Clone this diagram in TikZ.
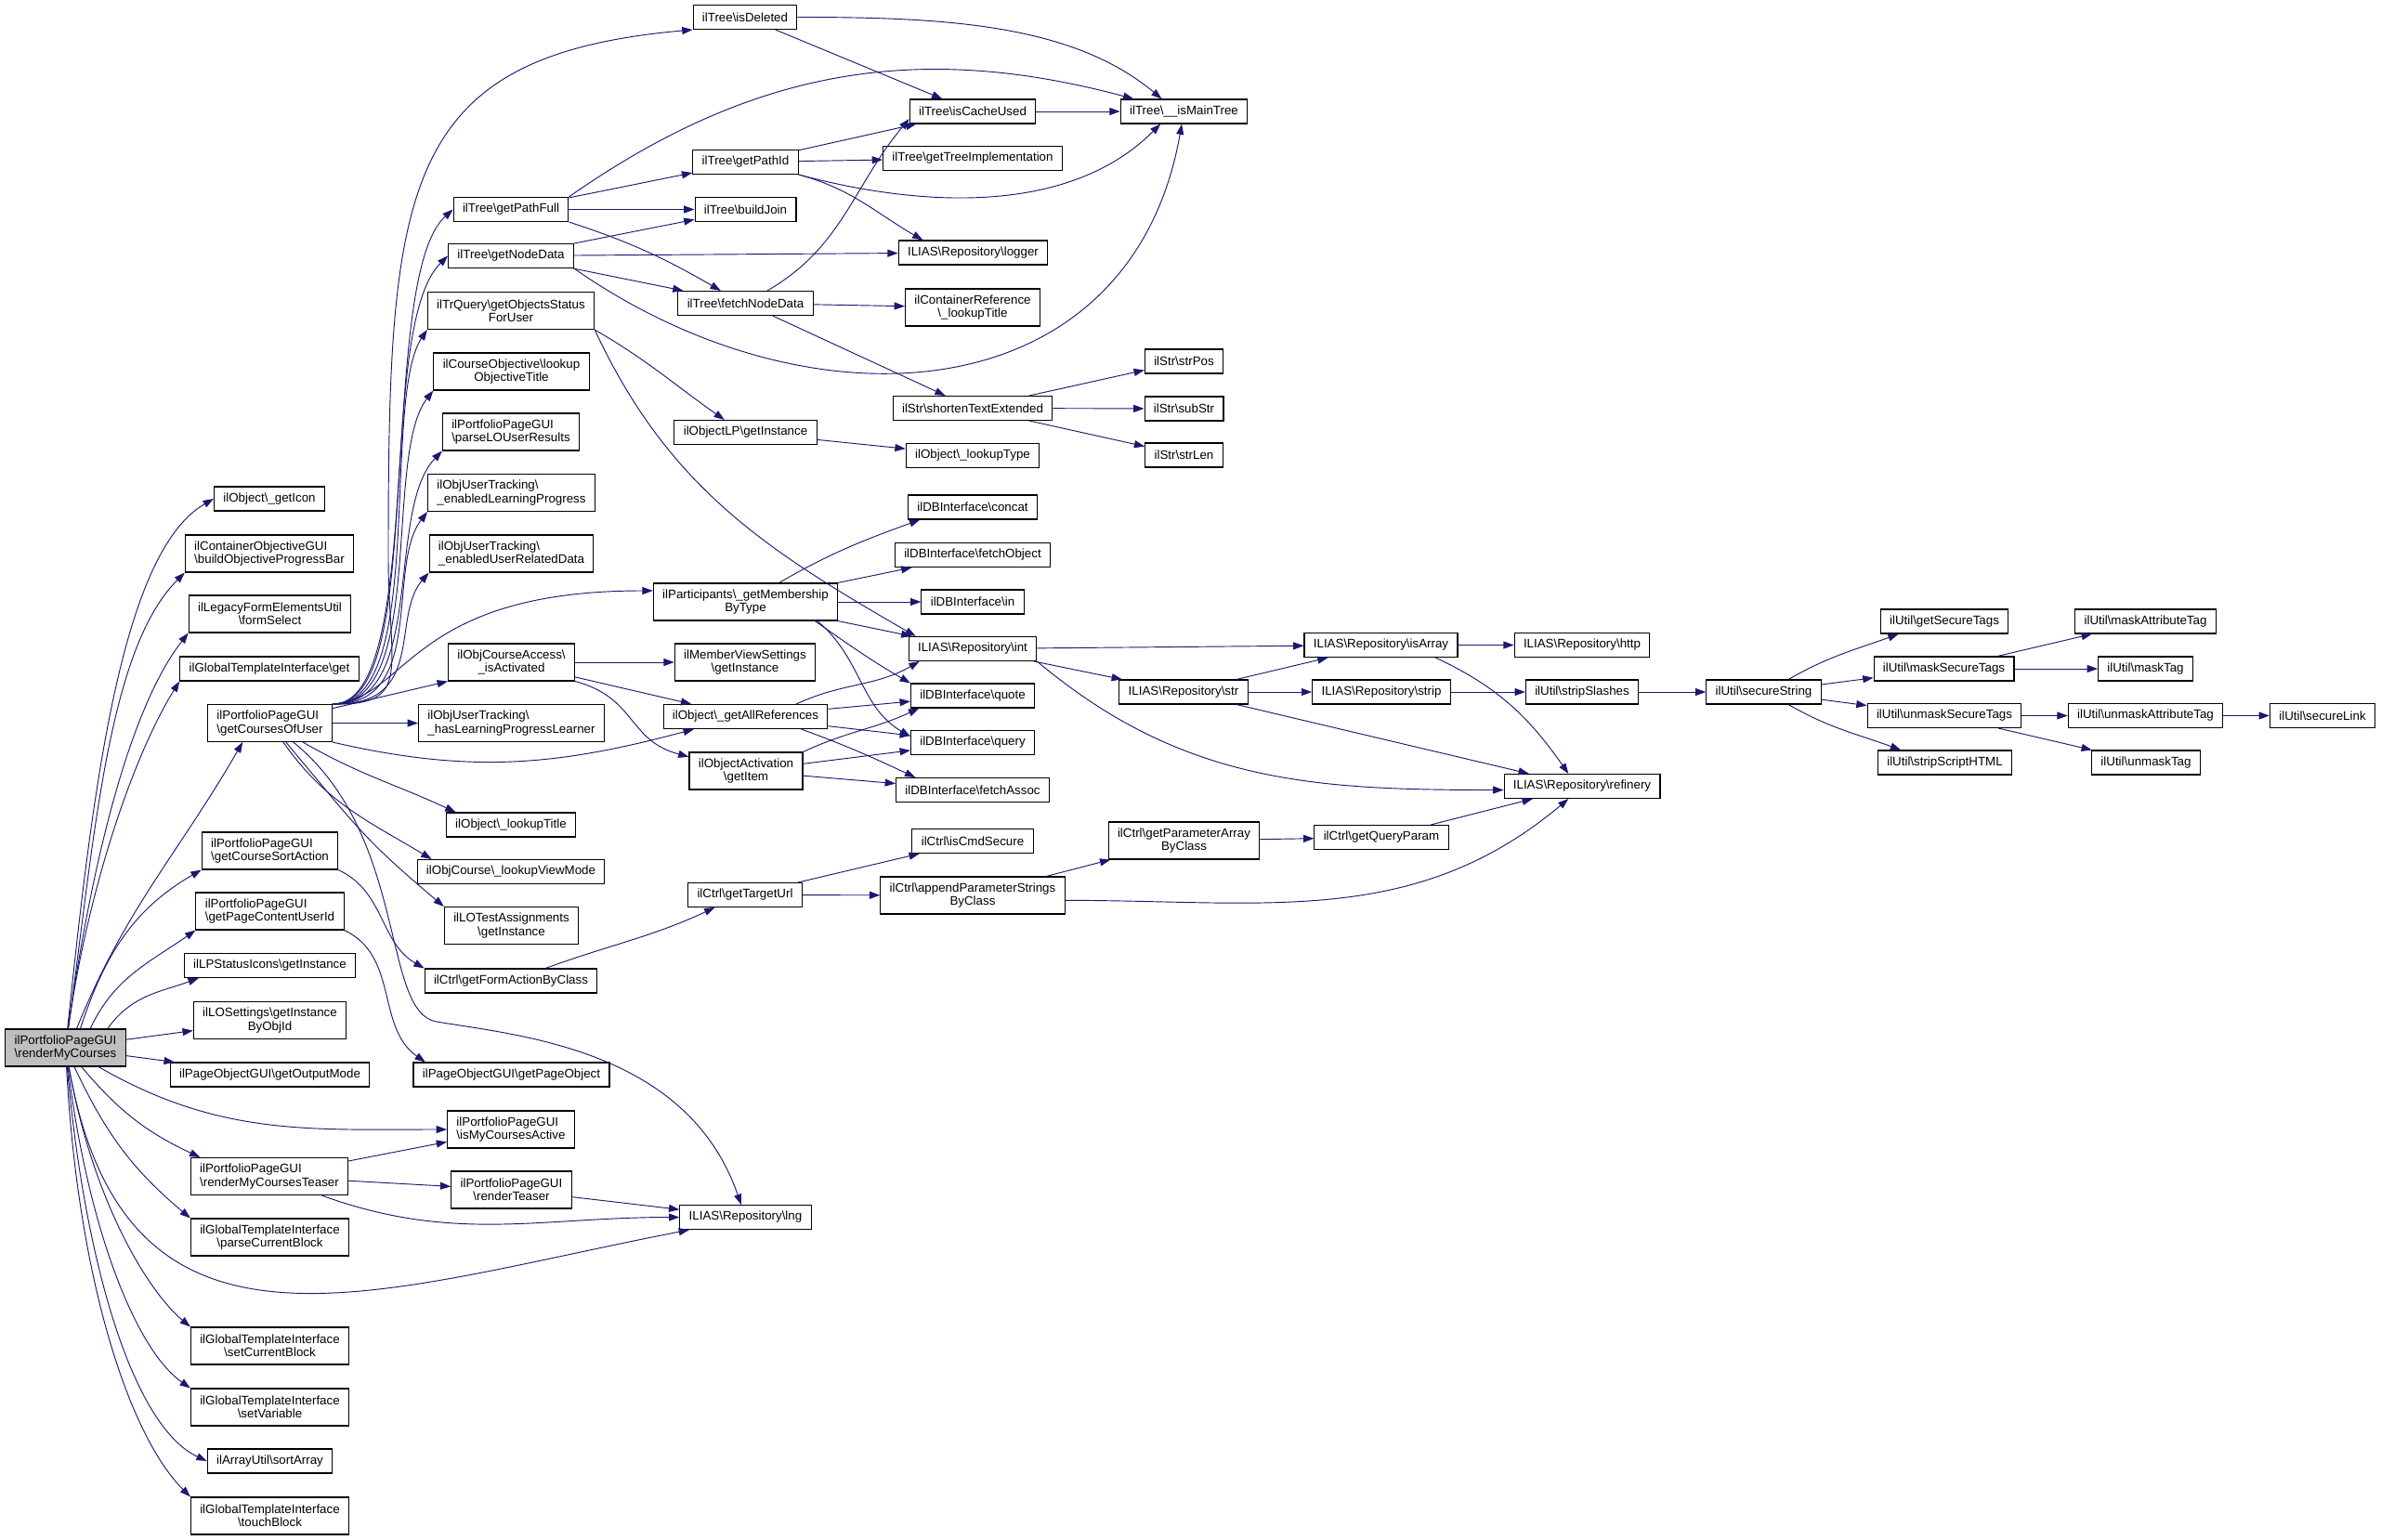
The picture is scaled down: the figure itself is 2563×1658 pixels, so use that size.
\documentclass[tikz,border=0pt]{standalone}
\usepackage{fontspec}
\setmainfont{Liberation Sans}
\usetikzlibrary{arrows.meta}
\definecolor{callblue}{RGB}{25,25,112}
\newcommand{\bsl}{\textbackslash}
\tikzset{
  fn/.style={draw=black, line width=0.8pt, fill=white, font=\fontsize{10pt}{10.7pt}\selectfont,
    inner xsep=7.4pt, inner ysep=2pt, minimum height=19.5pt},
  fn2/.style={fn, align=center, minimum height=30pt},
  fn2l/.style={fn, align=left, minimum height=30pt},
  fnroot/.style={fn2l, fill=gray!50},
  callline/.style={draw=callblue, line width=0.7pt, -{Triangle[length=8.5pt,width=6pt]}}
}
\begin{document}
\begin{tikzpicture}[x=0.75pt,y=0.75pt]
      \useasboundingbox (0,0) rectangle (2563,-1658);
      \path
        (70.5,-1128) node[fnroot] (rmc) {ilPortfolioPageGUI\\\bsl renderMyCourses}
        (290,-537) node[fn] (geticon) {ilObject\bsl\_getIcon}
        (290,-596) node[fn2l] (objbar) {ilContainerObjectiveGUI\\\bsl buildObjectiveProgressBar}
        (290.5,-661) node[fn2] (formsel) {ilLegacyFormElementsUtil\\\bsl formSelect}
        (290,-720) node[fn] (tplget) {ilGlobalTemplateInterface\bsl get}
        (290.5,-778.5) node[fn2l] (courses) {ilPortfolioPageGUI\\\bsl getCoursesOfUser}
        (290.5,-916) node[fn2l] (sortact) {ilPortfolioPageGUI\\\bsl getCourseSortAction}
        (290.5,-981) node[fn2l] (pageuser) {ilPortfolioPageGUI\\\bsl getPageContentUserId}
        (290.5,-1039.5) node[fn] (lpicons) {ilLPStatusIcons\bsl getInstance}
        (290.5,-1098.5) node[fn2] (losettings) {ilLOSettings\bsl getInstance\\ByObjId}
        (290.5,-1157) node[fn] (outputmode) {ilPageObjectGUI\bsl getOutputMode}
        (290,-1266.5) node[fn2l] (teaser) {ilPortfolioPageGUI\\\bsl renderMyCoursesTeaser}
        (290.5,-1332) node[fn2] (parseblock) {ilGlobalTemplateInterface\\\bsl parseCurrentBlock}
        (290.5,-1449) node[fn2] (setblock) {ilGlobalTemplateInterface\\\bsl setCurrentBlock}
        (290.5,-1515) node[fn2] (setvar) {ilGlobalTemplateInterface\\\bsl setVariable}
        (290.5,-1573) node[fn] (sortarr) {ilArrayUtil\bsl sortArray}
        (290.5,-1632) node[fn2] (touchblock) {ilGlobalTemplateInterface\\\bsl touchBlock}
        (550,-225.5) node[fn] (pathfull) {ilTree\bsl getPathFull}
        (550,-275.5) node[fn] (nodedata) {ilTree\bsl getNodeData}
        (550,-334.5) node[fn2] (trquery) {ilTrQuery\bsl getObjectsStatus\\ForUser}
        (550.5,-400) node[fn2] (objtitle) {ilCourseObjective\bsl lookup\\ObjectiveTitle}
        (550,-465) node[fn2l] (parselo) {ilPortfolioPageGUI\\\bsl parseLOUserResults}
        (550.5,-530.5) node[fn2l] (enabledlp) {ilObjUserTracking\bsl\\\_enabledLearningProgress}
        (550.5,-596) node[fn2l] (enabledurd) {ilObjUserTracking\bsl\\\_enabledUserRelatedData}
        (550.5,-713) node[fn2] (isactivated) {ilObjCourseAccess\bsl\\\_isActivated}
        (550.5,-778.5) node[fn2l] (haslp) {ilObjUserTracking\bsl\\\_hasLearningProgressLearner}
        (550,-888) node[fn] (lookuptitle) {ilObject\bsl\_lookupTitle}
        (550,-938.5) node[fn] (viewmode) {ilObjCourse\bsl\_lookupViewMode}
        (550.5,-996.5) node[fn2] (lotest) {ilLOTestAssignments\\\bsl getInstance}
        (550,-1056) node[fn] (formaction) {ilCtrl\bsl getFormActionByClass}
        (550.5,-1157) node[fn] (pageobject) {ilPageObjectGUI\bsl getPageObject}
        (550,-1216) node[fn2l] (myactive) {ilPortfolioPageGUI\\\bsl isMyCoursesActive}
        (550.5,-1281) node[fn2] (renderteaser) {ilPortfolioPageGUI\\\bsl renderTeaser}
        (802,-18.5) node[fn] (isdeleted) {ilTree\bsl isDeleted}
        (802.5,-174.5) node[fn] (pathid) {ilTree\bsl getPathId}
        (802.5,-225.5) node[fn] (buildjoin) {ilTree\bsl buildJoin}
        (802.5,-326.5) node[fn] (fetchnode) {ilTree\bsl fetchNodeData}
        (802.5,-465.5) node[fn] (objectlp) {ilObjectLP\bsl getInstance}
        (802.5,-648) node[fn2] (membership) {ilParticipants\bsl\_getMembership\\ByType}
        (802,-713) node[fn2] (memberview) {ilMemberViewSettings\\\bsl getInstance}
        (802.5,-771.5) node[fn] (allrefs) {ilObject\bsl\_getAllReferences}
        (803,-830) node[fn2] (getitem) {ilObjectActivation\\\bsl getItem}
        (802,-963.5) node[fn] (targeturl) {ilCtrl\bsl getTargetUrl}
        (802.5,-1310.5) node[fn] (lng) {ILIAS\bsl Repository\bsl lng}
        (1047,-120) node[fn] (cacheused) {ilTree\bsl isCacheUsed}
        (1047,-170.5) node[fn] (treeimpl) {ilTree\bsl getTreeImplementation}
        (1047.5,-272) node[fn] (logger) {ILIAS\bsl Repository\bsl logger}
        (1047,-331) node[fn2] (contref) {ilContainerReference\\\bsl\_lookupTitle}
        (1047,-439.5) node[fn] (shorten) {ilStr\bsl shortenTextExtended}
        (1047,-490.5) node[fn] (lookuptype) {ilObject\bsl\_lookupType}
        (1047,-546) node[fn] (concat) {ilDBInterface\bsl concat}
        (1047,-597.5) node[fn] (fetchobj) {ilDBInterface\bsl fetchObject}
        (1047,-648) node[fn] (dbin) {ilDBInterface\bsl in}
        (1047,-698.5) node[fn] (repoint) {ILIAS\bsl Repository\bsl int}
        (1047,-749) node[fn] (quote) {ilDBInterface\bsl quote}
        (1047,-799.5) node[fn] (query) {ilDBInterface\bsl query}
        (1047,-850.5) node[fn] (fetchassoc) {ilDBInterface\bsl fetchAssoc}
        (1047,-905.5) node[fn] (cmdsecure) {ilCtrl\bsl isCmdSecure}
        (1047,-964) node[fn2] (appendparam) {ilCtrl\bsl appendParameterStrings\\ByClass}
        (1274.5,-120) node[fn] (maintree) {ilTree\bsl\_\_isMainTree}
        (1274.5,-389) node[fn] (strpos) {ilStr\bsl strPos}
        (1274.5,-440) node[fn] (substr) {ilStr\bsl subStr}
        (1274.5,-490) node[fn] (strlen) {ilStr\bsl strLen}
        (1274,-745) node[fn] (repostr) {ILIAS\bsl Repository\bsl str}
        (1274.5,-905) node[fn2] (paramarray) {ilCtrl\bsl getParameterArray\\ByClass}
        (1486.5,-694.5) node[fn] (isarray) {ILIAS\bsl Repository\bsl isArray}
        (1487,-745) node[fn] (strip) {ILIAS\bsl Repository\bsl strip}
        (1487,-901.5) node[fn] (queryparam) {ilCtrl\bsl getQueryParam}
        (1703,-694.5) node[fn] (http) {ILIAS\bsl Repository\bsl http}
        (1703,-745) node[fn] (stripslashes) {ilUtil\bsl stripSlashes}
        (1703,-846.5) node[fn] (refinery) {ILIAS\bsl Repository\bsl refinery}
        (1898.5,-745) node[fn] (securestr) {ilUtil\bsl secureString}
        (2093,-669) node[fn] (securetags) {ilUtil\bsl getSecureTags}
        (2092.5,-720) node[fn] (masktags) {ilUtil\bsl maskSecureTags}
        (2093,-770.5) node[fn] (unmasktags) {ilUtil\bsl unmaskSecureTags}
        (2093.5,-821) node[fn] (stripscript) {ilUtil\bsl stripScriptHTML}
        (2309.5,-669) node[fn] (maskattr) {ilUtil\bsl maskAttributeTag}
        (2309.5,-720) node[fn] (masktag) {ilUtil\bsl maskTag}
        (2309.5,-770.5) node[fn] (unmaskattr) {ilUtil\bsl unmaskAttributeTag}
        (2310,-821) node[fn] (unmasktag) {ilUtil\bsl unmaskTag}
        (2500,-770.5) node[fn] (securelink) {ilUtil\bsl secureLink};
      \begin{scope}[callline]
        \draw (rmc) to[out=84,in=210,out looseness=1.1,in looseness=0.5] (geticon.west);
        \foreach \tgt/\ang in {objbar/225, formsel/232, tplget/238}
          \draw (rmc) to[out=82,in=\ang,out looseness=1,in looseness=0.6] (\tgt.south west);
        \draw ([xshift=9pt]rmc.north) to[out=68,in=240] ([xshift=-22pt]courses.south);
        \draw ([xshift=12pt]rmc.north) to[out=72,in=210] (sortact.south west);
        \draw ([xshift=20pt]rmc.north) to[out=65,in=215] (pageuser.south west);
        \draw ([xshift=34pt]rmc.north) to[out=55,in=200] ([xshift=12pt]lpicons.south west);
        \draw (rmc) -- (losettings);
        \draw (rmc) -- (outputmode);
        \draw (rmc) to[out=-30,in=180] (myactive);
        \draw (rmc) to[out=-50,in=155] ([xshift=8pt]teaser.north west);
        \draw (rmc) to[out=-65,in=140] (parseblock.north west);
        \draw (rmc) to[out=-80,in=191,looseness=1.3] ([xshift=8pt]lng.south west);
        \draw (rmc) to[out=-80,in=140,out looseness=1.2,in looseness=0.5] (setblock.north west);
        \draw (rmc) to[out=-83,in=145,out looseness=1.2,in looseness=0.5] (setvar.north west);
        \draw (rmc) to[out=-85,in=155,out looseness=1.2,in looseness=0.5] (sortarr.west);
        \draw (rmc) to[out=-87,in=135,out looseness=1.2,in looseness=0.5] (touchblock.north west);
        \draw (courses.north east) .. controls (445,-760) and (418,-720) .. (418,-600)
          .. controls (418,-200) and (430,-60) .. (isdeleted.south west);
        \foreach \tgt/\anc/\px/\py in {pathfull/west/405/300, nodedata/west/402/355,
            trquery/south west/410/430, objtitle/south west/412/490, parselo/south west/414/550,
            enabledlp/south west/415/610, enabledurd/south west/420/665}
          \draw (courses.north east) .. controls (460,-760) and (\px,-\py) .. (\tgt.\anc);
        \draw (courses.north east) .. controls (440,-752) and (440,-636) .. ([yshift=9pt]membership.west);
        \draw (courses) -- (isactivated.south west);
        \draw (courses) -- (haslp);
        \draw (courses.south east) to[out=-13,in=195] ([xshift=25pt]allrefs.south west);
        \draw (courses) to[out=-30,in=155] ([xshift=8pt]lookuptitle.north west);
        \draw (courses) to[out=-55,in=149] ([xshift=12pt]viewmode.north west);
        \draw (courses) to[out=-50,in=140,looseness=1.2] (lotest.north west);
        \draw (courses) .. controls (440,-900) and (410,-1090) .. (470,-1100)
          .. controls (560,-1115) and (740,-1130) .. (lng);
        \draw (sortact.south east) to[out=-25,in=150] (formaction.north west);
        \draw (pageuser.south east) to[out=-25,in=145] ([xshift=10pt]pageobject.north west);
        \draw (formaction) to[out=20,in=205] ([xshift=22pt]targeturl.south west);
        \draw (teaser) -- (myactive);
        \draw (teaser) -- (renderteaser);
        \draw (teaser) to[out=-20,in=180] (lng.west);
        \draw (renderteaser) -- (lng);
        \draw (isdeleted) -- (cacheused);
        \draw (isdeleted.east) to[out=0,in=140,in looseness=0.8] ([xshift=-18pt]maintree.north);
        \draw (pathfull.north east) to[out=35,in=165] ([xshift=11pt]maintree.north west);
        \draw (pathfull) -- (pathid);
        \draw (pathfull) -- (buildjoin);
        \draw (pathfull.south east) to[out=-18,in=150] ([xshift=-20pt]fetchnode.north);
        \draw (nodedata) -- (buildjoin);
        \draw (nodedata) -- (logger);
        \draw (nodedata) -- (fetchnode);
        \draw (nodedata.south east) to[out=-35,in=-100,looseness=1.2] (maintree);
        \draw (pathid) -- (cacheused);
        \draw (pathid) -- (treeimpl);
        \draw (pathid.south east) to[out=-15,in=-135,looseness=0.9] ([xshift=-19pt]maintree.south);
        \draw (pathid.south east) to[out=-15,in=150] ([xshift=20pt]logger.north west);
        \draw (fetchnode) to[out=30,in=230] ([yshift=-6pt]cacheused.west);
        \draw (fetchnode) -- (contref);
        \draw (fetchnode) -- (shorten);
        \draw (cacheused) -- (maintree);
        \foreach \tgt in {strpos, substr, strlen}
          \draw (shorten) -- (\tgt);
        \draw (trquery.south east) to[out=-30,in=145] ([xshift=-17pt]objectlp.north);
        \draw (trquery.south east) to[out=-65,in=150] ([xshift=6pt]repoint.north west);
        \draw (objectlp) -- (lookuptype);
        \draw ([xshift=27pt]membership.north) to[out=30,in=200] ([xshift=10pt]concat.south west);
        \draw (membership) -- (fetchobj);
        \draw (membership) -- (dbin);
        \draw (membership) -- (repoint);
        \draw ([xshift=56pt]membership.south) to[out=-35,in=150] (quote.north west);
        \draw ([xshift=58pt]membership.south) to[out=-40,in=150] ([yshift=5pt]query.west);
        \draw (isactivated) -- (memberview);
        \draw (isactivated) -- (allrefs);
        \draw (isactivated.south east) to[out=-15,in=165,looseness=1.2] ([yshift=-4pt]getitem.north west);
        \draw ([xshift=41pt]allrefs.north) to[out=25,in=210] ([xshift=9pt]repoint.south west);
        \draw (allrefs) -- (quote);
        \draw (allrefs) -- (query);
        \draw ([xshift=45pt]allrefs.south) to[out=-20,in=155] ([xshift=16pt]fetchassoc.north west);
        \draw (getitem.north east) to[out=25,in=205] ([xshift=7pt]quote.south west);
        \draw (getitem) -- (query);
        \draw (getitem) -- (fetchassoc);
        \draw (repoint) -- (isarray);
        \draw (repoint) -- (repostr);
        \draw (repoint.south east) to[out=-40,in=180] ([yshift=-3pt]refinery.west);
        \draw (repostr) -- (isarray);
        \draw (repostr) -- (strip);
        \draw (repostr) -- (refinery);
        \draw (isarray) -- (http);
        \draw ([xshift=44pt]isarray.south) to[out=-25,in=125] ([xshift=-11pt]refinery.north);
        \draw (strip) -- (stripslashes);
        \draw (stripslashes) -- (securestr);
        \draw (queryparam) -- (refinery);
        \draw (paramarray) -- (queryparam);
        \draw (appendparam) -- (paramarray);
        \draw ([yshift=-4pt]appendparam.east) to[out=0,in=220] ([xshift=-11pt]refinery.south);
        \draw (targeturl) -- (cmdsecure);
        \draw (targeturl) -- (appendparam);
        \draw ([xshift=20pt]securestr.north) to[out=30,in=200] ([xshift=15pt]securetags.south west);
        \draw (securestr) -- (masktags);
        \draw (securestr) -- (unmasktags);
        \draw ([xshift=20pt]securestr.south) to[out=-30,in=160] ([xshift=19pt]stripscript.north west);
        \draw (masktags) -- (maskattr);
        \draw (masktags) -- (masktag);
        \draw (unmasktags) -- (unmaskattr);
        \draw (unmasktags) -- (unmasktag);
        \draw (unmaskattr) -- (securelink);
      \end{scope}
    \end{tikzpicture}
\end{document}
